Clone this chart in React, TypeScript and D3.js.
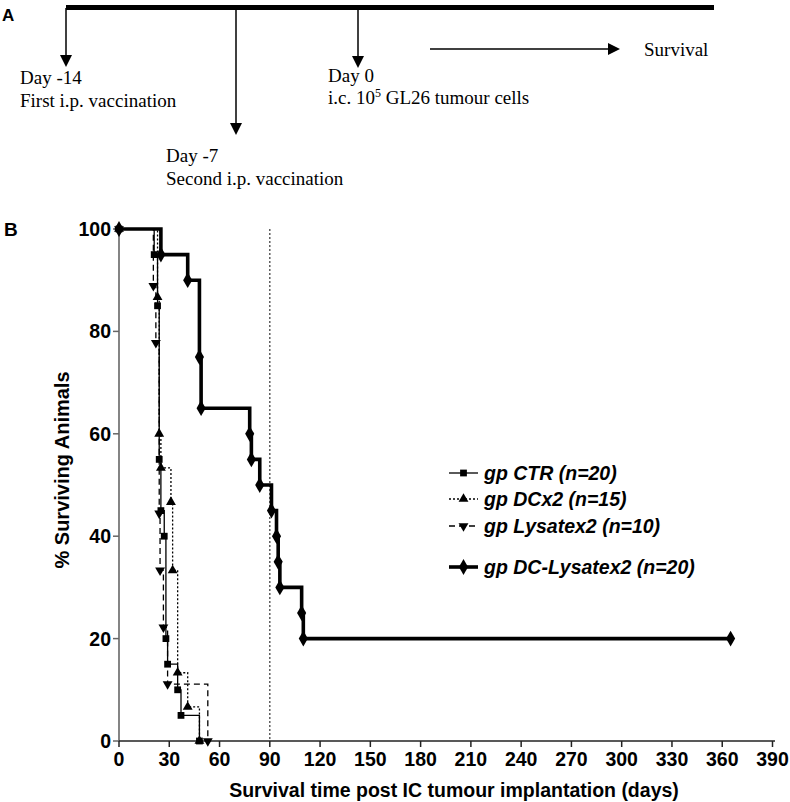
import React from "react";
import * as d3 from "d3";

// ---- data ----
const xTicks = [0, 30, 60, 90, 120, 150, 180, 210, 240, 270, 300, 330, 360, 390];
const yTicks = [0, 20, 40, 60, 80, 100];

const ctrDays = [0, 21, 23, 24, 25, 27, 28, 29, 35, 37, 48];
const ctrSurv = [100, 95, 85, 55, 45, 40, 20, 15, 10, 5, 0];

const dcDays = [0, 23, 24, 25, 31, 32, 35, 41, 48];
const dcSurv = [100, 86.67, 60, 53.33, 46.67, 33.33, 13.33, 6.67, 0];

const lysDays = [0, 20.5, 22, 24, 24.5, 26.5, 29, 53];
const lysSurv = [100, 88.89, 77.78, 44.44, 33.33, 22.22, 11.11, 0];

const dclDays = [0, 25, 41, 48, 49, 78, 79, 84, 91, 94, 95, 96, 109, 110, 365];
const dclSurv = [100, 95, 90, 75, 65, 60, 55, 50, 45, 40, 35, 30, 25, 20, 20];

const seriesNames = ["gp CTR (n=20)", "gp DCx2 (n=15)", "gp Lysatex2 (n=10)", "gp DC-Lysatex2 (n=20)"];
const refDay = 90;

// ---- layout ----
const W = 790, H = 802;
const x = d3.scaleLinear().domain([0, 390]).range([119, 772.5]);
const y = d3.scaleLinear().domain([0, 100]).range([741, 229]);

type Marker = "square" | "triangle" | "down" | "diamond";
const series = [
  { name: seriesNames[0], days: ctrDays, surv: ctrSurv, width: 1.3, dash: "", marker: "square" as Marker },
  { name: seriesNames[1], days: dcDays, surv: dcSurv, width: 1.3, dash: "2,2", marker: "triangle" as Marker },
  { name: seriesNames[2], days: lysDays, surv: lysSurv, width: 1.3, dash: "6,4", marker: "down" as Marker },
  { name: seriesNames[3], days: dclDays, surv: dclSurv, width: 3.6, dash: "", marker: "diamond" as Marker },
];

function symbolPath(m: Marker) {
  if (m === "square") return d3.symbol(d3.symbolSquare, 46)()!;
  if (m === "triangle") return d3.symbol(d3.symbolTriangle, 42)()!;
  if (m === "down") return d3.symbol(d3.symbolTriangle, 42)()!;
  return d3.symbol(d3.symbolDiamond, 72)()!;
}

function Mark({ m, cx, cy }: { m: Marker; cx: number; cy: number }) {
  return (
    <path
      d={symbolPath(m)}
      transform={`translate(${cx},${cy})${m === "down" ? " rotate(180)" : ""}`}
      fill="#000"
    />
  );
}

const line = d3
  .line<[number, number]>()
  .x((d) => x(d[0]))
  .y((d) => y(d[1]))
  .curve(d3.curveStepAfter);

const serif = "'Liberation Serif', 'Times New Roman', serif";
const sans = "'Liberation Sans', Arial, Helvetica, sans-serif";

const legendY = [473, 499, 526, 567];

export default function App() {
  const timeline = [
    { x: 66, tip: 67, l1: "Day -14", l2: "First i.p. vaccination", tx: 20, b1: 84, b2: 107 },
    { x: 236, tip: 135, l1: "Day -7", l2: "Second i.p. vaccination", tx: 166, b1: 162, b2: 185 },
    { x: 358, tip: 68, l1: "Day 0", l2: "", tx: 328, b1: 82, b2: 104 },
  ];
  return (
    <svg
      width={W}
      height={H}
      style={{ position: "fixed", left: 0, top: 0, background: "#fff" }}
    >
      <rect width={W} height={H} fill="#fff" />
      {/* ---------- Panel A ---------- */}
      <text x={2} y={21} fontFamily={sans} fontWeight="bold" fontSize={17}>A</text>
      <line x1={66} x2={714} y1={7.5} y2={7.5} stroke="#000" strokeWidth={5} />
      {timeline.map((t, i) => (
        <g key={i}>
          <line x1={t.x} x2={t.x} y1={8} y2={t.tip - 11} stroke="#000" strokeWidth={1.5} />
          <path d={`M${t.x - 6},${t.tip - 12} L${t.x + 6},${t.tip - 12} L${t.x},${t.tip} Z`} fill="#000" />
          <text x={t.tx} y={t.b1} fontFamily={serif} fontSize={19}>{t.l1}</text>
          {t.l2 ? (
            <text x={t.tx} y={t.b2} fontFamily={serif} fontSize={19}>{t.l2}</text>
          ) : (
            <text x={t.tx} y={t.b2} fontFamily={serif} fontSize={19}>
              i.c. 10<tspan dy={-7} fontSize={12}>5</tspan>
              <tspan dy={7}> GL26 tumour cells</tspan>
            </text>
          )}
        </g>
      ))}
      <line x1={430} x2={610} y1={49} y2={49} stroke="#000" strokeWidth={1.5} />
      <path d="M608,43 L620,49 L608,55 Z" fill="#000" />
      <text x={644} y={56} fontFamily={serif} fontSize={19}>Survival</text>

      {/* ---------- Panel B ---------- */}
      <text x={4} y={236} fontFamily={sans} fontWeight="bold" fontSize={19}>B</text>

      {/* reference line */}
      <line x1={x(refDay)} x2={x(refDay)} y1={y(100)} y2={y(0)} stroke="#444" strokeWidth={1.3} strokeDasharray="2,2" />

      {/* axes */}
      <line x1={x(0)} x2={x(0)} y1={y(100)} y2={y(0)} stroke="#666" strokeWidth={1.6} />
      {yTicks.map((t) => (
        <g key={t}>
          <line x1={x(0) - 6} x2={x(0)} y1={y(t)} y2={y(t)} stroke="#666" strokeWidth={1.5} />
          <text x={x(0) - 8} y={y(t)} dy="0.36em" textAnchor="end" fontFamily={sans} fontWeight="bold" fontSize={19.5}>{t}</text>
        </g>
      ))}
      <line x1={x(0)} x2={775} y1={y(0)} y2={y(0)} stroke="#222" strokeWidth={1.6} />
      {xTicks.map((t) => (
        <g key={t}>
          <line x1={x(t)} x2={x(t)} y1={y(0)} y2={y(0) + 6} stroke="#222" strokeWidth={1.5} />
          <text x={x(t)} y={766} textAnchor="middle" fontFamily={sans} fontWeight="bold" fontSize={19.5}>{t}</text>
        </g>
      ))}
      <text x={454} y={797} textAnchor="middle" fontFamily={sans} fontWeight="bold" fontSize={19.5}>
        Survival time post IC tumour implantation (days)
      </text>
      <text transform="translate(69,470) rotate(-90)" textAnchor="middle" fontFamily={sans} fontWeight="bold" fontSize={20}>
        % Surviving Animals
      </text>

      {/* curves */}
      {series.map((s, i) => {
        const pts = s.days.map((d, j) => [d, s.surv[j]] as [number, number]);
        return (
          <g key={i}>
            <path d={line(pts)!} fill="none" stroke="#000" strokeWidth={s.width} strokeDasharray={s.dash || undefined} />
            {pts.map((p, j) => (
              <Mark key={j} m={s.marker} cx={x(p[0])} cy={y(p[1])} />
            ))}
          </g>
        );
      })}

      {/* legend */}
      {series.map((s, i) => (
        <g key={i}>
          <line x1={449} x2={478} y1={legendY[i]} y2={legendY[i]} stroke="#000" strokeWidth={s.width} strokeDasharray={s.dash || undefined} />
          <Mark m={s.marker} cx={463.5} cy={legendY[i]} />
          <text x={484} y={legendY[i]} dy="0.36em" fontFamily={sans} fontWeight="bold" fontStyle="italic" fontSize={19.5}>{s.name}</text>
        </g>
      ))}
    </svg>
  );
}
